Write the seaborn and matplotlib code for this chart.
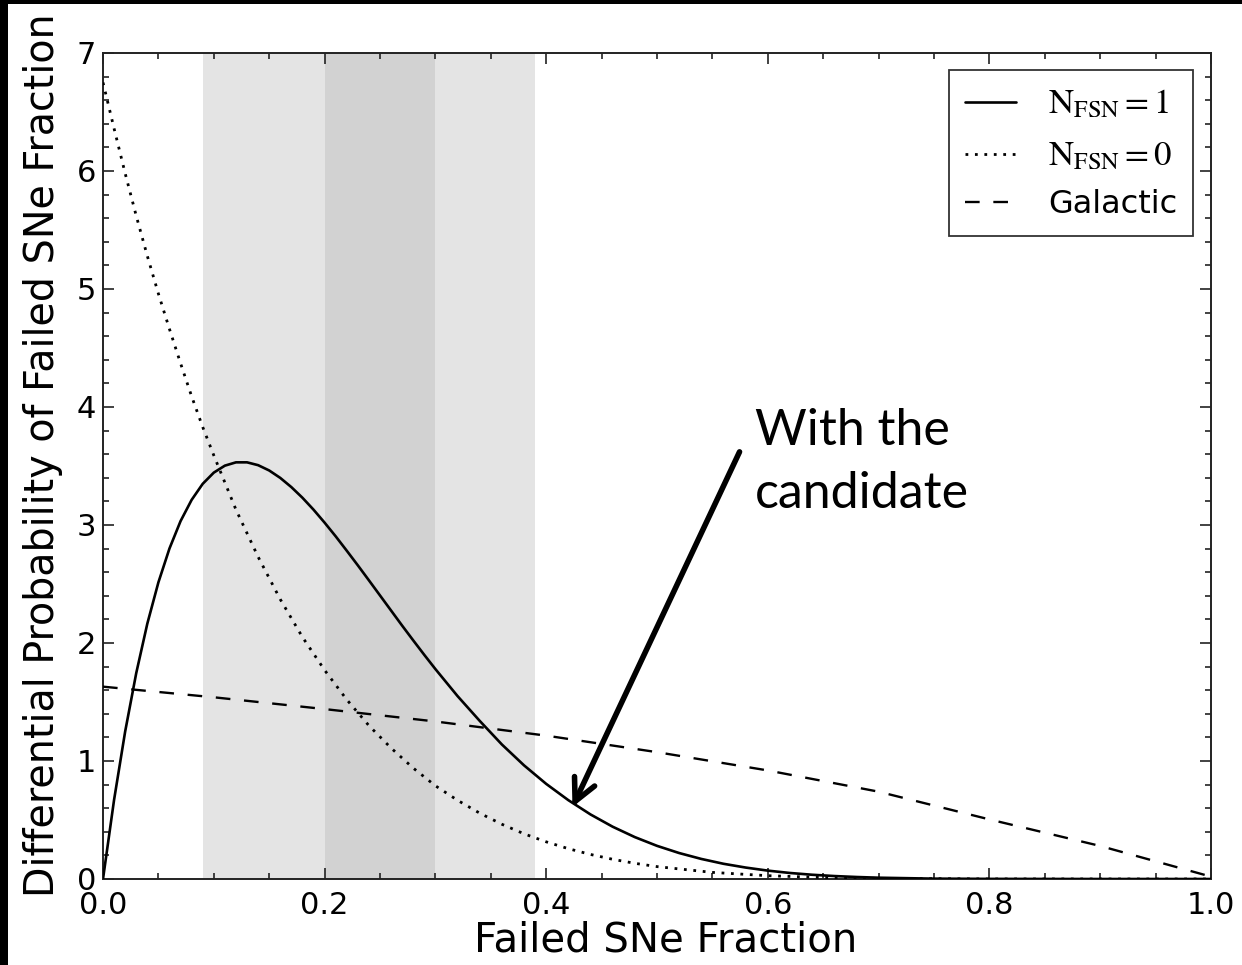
import matplotlib
matplotlib.use("Agg")
import matplotlib.pyplot as plt
from matplotlib.patches import Rectangle
from matplotlib.ticker import MultipleLocator, FormatStrFormatter
import pandas as pd
import seaborn as sns

# Posterior density with one failed SN candidate
one_frac = [0.00, 0.01, 0.02, 0.03, 0.04, 0.05, 0.06, 0.07, 0.08, 0.09, 0.10,
            0.11, 0.12, 0.13, 0.14, 0.15, 0.16, 0.17, 0.18, 0.19, 0.20,
            0.21, 0.22, 0.23, 0.24, 0.25, 0.26, 0.27, 0.28, 0.29, 0.30,
            0.32, 0.34, 0.36, 0.38, 0.40, 0.42, 0.44, 0.46, 0.48, 0.50,
            0.52, 0.54, 0.56, 0.58, 0.60, 0.62, 0.64, 0.66, 0.68, 0.70,
            0.75, 0.80, 0.90, 1.00]
one_fsn = [0.000, 0.671, 1.250, 1.745, 2.164, 2.514, 2.801, 3.033, 3.213, 3.349, 3.444,
           3.503, 3.531, 3.531, 3.507, 3.462, 3.399, 3.321, 3.231, 3.130, 3.020,
           2.904, 2.782, 2.658, 2.531, 2.403, 2.275, 2.147, 2.022, 1.899, 1.779,
           1.550, 1.340, 1.140, 0.963, 0.806, 0.668, 0.547, 0.443, 0.355, 0.281,
           0.220, 0.170, 0.129, 0.097, 0.071, 0.051, 0.036, 0.025, 0.017, 0.011,
           0.003, 0.001, 0.000, 0.000]

# Posterior density with no failed SN
zero_frac = [0.00, 0.01, 0.02, 0.03, 0.04, 0.05, 0.06, 0.07, 0.08, 0.09, 0.10,
             0.12, 0.14, 0.16, 0.18, 0.20, 0.22, 0.24, 0.26, 0.28, 0.30,
             0.32, 0.34, 0.36, 0.38, 0.40, 0.42, 0.44, 0.46, 0.48, 0.50,
             0.55, 0.60, 0.65, 0.70, 0.80, 0.90, 1.00]
zero_fsn = [6.75, 6.36, 5.98, 5.62, 5.28, 4.96, 4.66, 4.37, 4.09, 3.83, 3.59,
            3.13, 2.73, 2.37, 2.05, 1.77, 1.52, 1.30, 1.11, 0.94, 0.79,
            0.667, 0.558, 0.464, 0.383, 0.315, 0.257, 0.208, 0.167, 0.133, 0.105,
            0.056, 0.028, 0.012, 0.005, 0.0004, 0.0, 0.0]

# Galactic expectation
gal_frac = [0.00, 0.10, 0.20, 0.30, 0.40, 0.50, 0.60, 0.70, 0.80, 0.90, 1.00]
galactic = [1.63, 1.54, 1.44, 1.335, 1.215, 1.075, 0.92, 0.74, 0.505, 0.28, 0.02]

# Shaded intervals on the fraction axis
outer_band = (0.09, 0.39)
inner_band = (0.20, 0.30)

labels = [r"$\mathrm{N_{FSN}=1}$", r"$\mathrm{N_{FSN}=0}$", "Galactic"]

sns.set_style("ticks")
plt.rcParams["font.family"] = ["DejaVu Sans"]
plt.rcParams["mathtext.fontset"] = "stix"
for key in ("text.color", "axes.labelcolor", "xtick.color", "ytick.color"):
    plt.rcParams[key] = "black"

W, H = 1242, 965
fig = plt.figure(figsize=(W / 100, H / 100), dpi=100, facecolor="black")
fig.patches.append(Rectangle((8 / W, 0), 1 - 8 / W, 1 - 4 / H,
                             transform=fig.transFigure, facecolor="white",
                             edgecolor="none", zorder=-10))
ax = fig.add_axes([103 / W, 1 - 879 / H, (1211 - 103) / W, (879 - 53) / H])

ax.axvspan(*outer_band, color="#e4e4e4", lw=0, zorder=0)
ax.axvspan(*inner_band, color="#d2d2d2", lw=0, zorder=0)

df1 = pd.DataFrame({"x": one_frac, "y": one_fsn})
df0 = pd.DataFrame({"x": zero_frac, "y": zero_fsn})
dfg = pd.DataFrame({"x": gal_frac, "y": galactic})

sns.lineplot(data=df1, x="x", y="y", ax=ax, color="black", lw=1.9,
             label=labels[0], zorder=3)
sns.lineplot(data=df0, x="x", y="y", ax=ax, color="black", lw=2.0,
             linestyle=(0, (1, 2.4)), label=labels[1], zorder=3)
sns.lineplot(data=dfg, x="x", y="y", ax=ax, color="black", lw=1.7,
             linestyle=(0, (6.2, 5.8)), label=labels[2], zorder=3)

ax.set_xlim(0, 1)
ax.set_ylim(0, 7)
ax.xaxis.set_major_locator(MultipleLocator(0.2))
ax.xaxis.set_minor_locator(MultipleLocator(0.05))
ax.yaxis.set_major_locator(MultipleLocator(1))
ax.yaxis.set_minor_locator(MultipleLocator(0.2))
ax.xaxis.set_major_formatter(FormatStrFormatter("%.1f"))
ax.tick_params(which="both", direction="in", top=True, right=True,
               color="#222222", width=1.2)
ax.tick_params(which="major", length=8, labelsize=22)
ax.tick_params(axis="x", which="major", pad=9)
ax.tick_params(axis="y", which="major", pad=5)
ax.tick_params(which="minor", length=4.5)
for s in ax.spines.values():
    s.set_linewidth(1.4)
    s.set_color("#222222")
    s.set_visible(True)

ax.set_xlabel("Failed SNe Fraction", fontsize=29)
ax.set_ylabel("Differential Probability of Failed SNe Fraction", fontsize=28.5)
ax.xaxis.set_label_coords(0.508, -0.050)
ax.yaxis.set_label_coords(-0.036, 0.513)

leg = ax.legend(loc="upper right", bbox_to_anchor=(0.984, 0.979),
                fontsize=23, frameon=True, fancybox=False, edgecolor="black",
                handlelength=1.6, handletextpad=1.0, borderpad=0.5,
                labelspacing=0.55, borderaxespad=0)
leg.get_frame().set_linewidth(1.3)
for t in leg.get_texts()[:2]:
    t.set_fontsize(25)

ax.annotate("", xy=(0.4237, 0.61), xytext=(0.5745, 3.62),
            arrowprops=dict(arrowstyle="->", lw=4, color="black",
                            mutation_scale=40, shrinkA=0, shrinkB=0),
            zorder=5)
ax.text(0.588, 3.99, "With the\ncandidate", fontsize=36, family="Lato",
        ha="left", va="top", linespacing=1.45, zorder=5)

fig.savefig("out.png", dpi=100, facecolor="black")
